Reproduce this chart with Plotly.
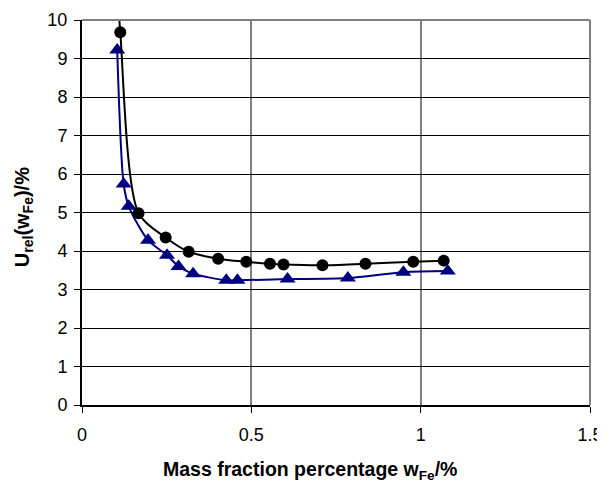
import plotly.graph_objects as go

# Black circle series (first point lies above the visible range, clipped by axis)
circle_x = [0.100, 0.113, 0.167, 0.247, 0.315, 0.402, 0.485, 0.555, 0.595, 0.710, 0.837, 0.978, 1.068]
circle_y = [11.5, 9.68, 4.98, 4.35, 3.98, 3.80, 3.72, 3.67, 3.65, 3.63, 3.67, 3.72, 3.75]

# Navy triangle series
tri_x = [0.104, 0.123, 0.138, 0.195, 0.251, 0.285, 0.328, 0.426, 0.459, 0.607, 0.785, 0.949, 1.080]
tri_y = [9.22, 5.74, 5.16, 4.28, 3.89, 3.60, 3.41, 3.24, 3.24, 3.27, 3.30, 3.45, 3.48]

x_ticks = [0, 0.5, 1, 1.5]
x_ticklabels = ["0", "0.5", "1", "1.5"]
y_ticks = list(range(0, 11))

x_title = "<b>Mass fraction percentage w<sub>Fe</sub>/%</b>"
y_title = "<b>U<sub>rel</sub>(w<sub>Fe</sub>)/%</b>"

FONT = "Liberation Sans, Arial, sans-serif"

fig = go.Figure()
fig.add_trace(go.Scatter(
    x=tri_x, y=tri_y, mode="lines+markers",
    line=dict(color="#000080", width=2, shape="spline", smoothing=0.8),
    marker=dict(symbol="triangle-up", size=14, color="#000080"),
    showlegend=False,
))
fig.add_trace(go.Scatter(
    x=circle_x, y=circle_y, mode="lines+markers",
    line=dict(color="black", width=2, shape="spline", smoothing=0.8),
    marker=dict(symbol="circle", size=12, color="black"),
    showlegend=False,
))

fig.update_layout(
    width=605, height=482,
    margin=dict(l=74, r=23, t=12, b=85),
    paper_bgcolor="white", plot_bgcolor="white",
    font=dict(family=FONT, color="black", size=18),
    xaxis=dict(
        range=[0, 1.5], tickvals=x_ticks, ticktext=x_ticklabels,
        showgrid=True, gridcolor="#808080", gridwidth=2,
        showline=True, linecolor="black", linewidth=2,
        ticks="outside", ticklen=6, tickcolor="black", tickwidth=1,
        tickfont=dict(size=18), zeroline=False, automargin=False,
        ticklabelstandoff=6,
    ),
    yaxis=dict(
        range=[0, 10], tickvals=y_ticks,
        showgrid=True, gridcolor="black", gridwidth=1,
        showline=True, linecolor="black", linewidth=2,
        ticks="outside", ticklen=6, tickcolor="black", tickwidth=1,
        tickfont=dict(size=18), zeroline=False, automargin=False,
        ticklabelstandoff=3,
    ),
    annotations=[
        dict(text=x_title, xref="paper", yref="paper", x=0.449, y=-0.171,
             xanchor="center", yanchor="middle", showarrow=False,
             font=dict(size=19.5, family=FONT, color="black")),
        dict(text=y_title, xref="paper", yref="paper", x=-0.116, y=0.488,
             xanchor="center", yanchor="middle", showarrow=False, textangle=-90,
             font=dict(size=20, family=FONT, color="black")),
    ],
    shapes=[
        dict(type="line", xref="paper", yref="paper", x0=0, x1=1, y0=1, y1=1,
             line=dict(color="#808080", width=2), layer="above"),
        dict(type="line", xref="paper", yref="paper", x0=1, x1=1, y0=0, y1=1,
             line=dict(color="#808080", width=2), layer="above"),
    ],
)

fig.write_html("out.html")
